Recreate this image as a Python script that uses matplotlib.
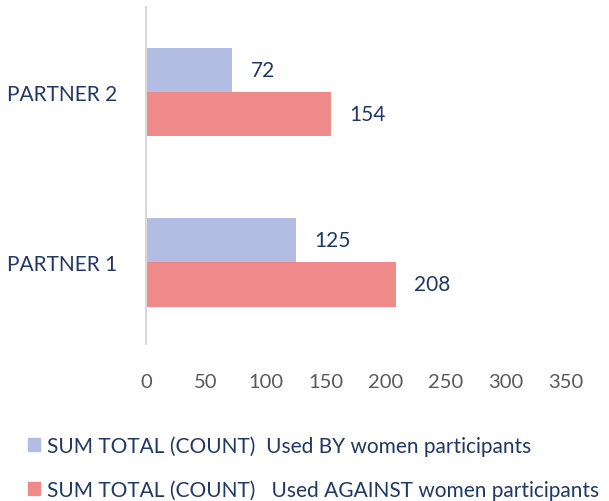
import matplotlib.pyplot as plt
from matplotlib.patches import Patch

# data
partners = ['PARTNER 1', 'PARTNER 2']
used_by = [125, 72]
used_against = [208, 154]
series_names = ['SUM TOTAL (COUNT)  Used BY women participants',
                'SUM TOTAL (COUNT)   Used AGAINST women participants']
xticks = [0, 50, 100, 150, 200, 250, 300, 350]

blue = '#b3bde3'
red = '#ef8a8a'
navy = '#1f3864'
grey = '#595959'

plt.rcParams['font.family'] = ['Lato', 'DejaVu Sans']

fig = plt.figure(figsize=(6.09, 5.02), dpi=100)
ax = fig.add_axes([146/609, 1-345/502, 420/609, 337/502])

h = 0.26
pos = list(range(len(partners)))
b1 = ax.barh([p + h/2 for p in pos], used_by, height=h, color=blue)
b2 = ax.barh([p - h/2 for p in pos], used_against, height=h, color=red)

for bars in (b1, b2):
    for r in bars:
        w = r.get_width()
        ax.text(w + 15, r.get_y() + r.get_height()/2, str(int(w)),
                va='center', ha='left', fontsize=15, color=navy)

ax.set_xlim(0, 350)
ax.set_ylim(-0.48, 1.5)
ax.set_xticks(xticks)
ax.set_yticks(pos)
ax.set_yticklabels(partners)
ax.tick_params(axis='x', length=0, labelsize=14.5, labelcolor=grey, pad=21)
ax.tick_params(axis='y', length=0, labelsize=15, labelcolor=navy, pad=21)
for s in ['top', 'right', 'bottom']:
    ax.spines[s].set_visible(False)
ax.spines['left'].set_color('#d9d9d9')
ax.spines['left'].set_linewidth(1.5)

handles = [Patch(color=blue), Patch(color=red)]
fig.legend(handles, series_names, loc='upper left', bbox_to_anchor=(0.015, 0.168),
           frameon=False, fontsize=15, labelcolor=navy, handlelength=0.6,
           handleheight=0.6, handletextpad=0.3, labelspacing=1.1)

fig.savefig('out.png', dpi=100)
